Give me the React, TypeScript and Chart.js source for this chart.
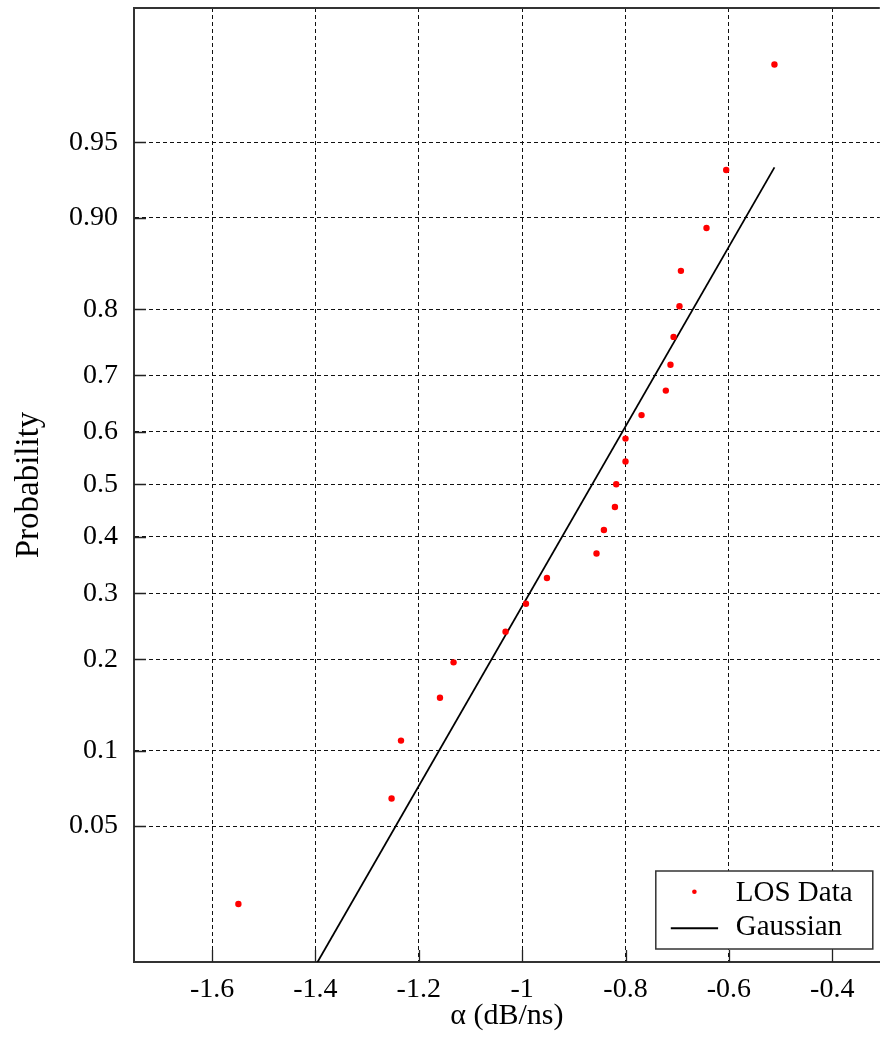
import React, { useEffect, useRef } from 'react';
import { Chart, registerables, LinearScale } from 'chart.js';

Chart.register(...registerables);

// ---------- data ----------
const losAlpha = [
  -1.549, -1.2526, -1.2344, -1.159, -1.1327, -1.0321, -0.9926, -0.952,
  -0.8561, -0.8418, -0.8205, -0.818, -0.8, -0.8, -0.769, -0.722, -0.713,
  -0.707, -0.6956, -0.6928, -0.6433, -0.6052, -0.5118,
];
const losProb = [
  0.0217, 0.0652, 0.1087, 0.1522, 0.1957, 0.2391, 0.2826, 0.3261, 0.3696,
  0.413, 0.4565, 0.5, 0.5435, 0.587, 0.6304, 0.6739, 0.7174, 0.7609, 0.8043,
  0.8478, 0.8913, 0.9348, 0.9783,
];
const gaussAlpha = [-1.549, -0.5118];
const gaussProb = [0.00153, 0.9364];

const xTickValues = [-1.6, -1.4, -1.2, -1.0, -0.8, -0.6, -0.4];
const xTickLabels = ['-1.6', '-1.4', '-1.2', '-1', '-0.8', '-0.6', '-0.4'];
const yTickValues = [0.05, 0.1, 0.2, 0.3, 0.4, 0.5, 0.6, 0.7, 0.8, 0.9, 0.95];
const yTickLabels = ['0.05', '0.1', '0.2', '0.3', '0.4', '0.5', '0.6', '0.7', '0.8', '0.90', '0.95'];

const seriesNames = ['LOS Data', 'Gaussian'];

// ---------- normal probability helpers ----------
function probit(p: number): number {
  const a = [-3.969683028665376e1, 2.209460984245205e2, -2.759285104469687e2, 1.38357751867269e2, -3.066479806614716e1, 2.506628277459239];
  const b = [-5.447609879822406e1, 1.615858368580409e2, -1.556989798598866e2, 6.680131188771972e1, -1.328068155288572e1];
  const c = [-7.784894002430293e-3, -3.223964580411365e-1, -2.400758277161838, -2.549732539343734, 4.374664141464968, 2.938163982698783];
  const d = [7.784695709041462e-3, 3.224671290700398e-1, 2.445134137142996, 3.754408661907416];
  const pl = 0.02425;
  const ph = 1 - pl;
  if (p <= 0) return -8;
  if (p >= 1) return 8;
  let q: number, r: number;
  if (p < pl) {
    q = Math.sqrt(-2 * Math.log(p));
    return (((((c[0] * q + c[1]) * q + c[2]) * q + c[3]) * q + c[4]) * q + c[5]) /
      ((((d[0] * q + d[1]) * q + d[2]) * q + d[3]) * q + 1);
  }
  if (p <= ph) {
    q = p - 0.5;
    r = q * q;
    return ((((((a[0] * r + a[1]) * r + a[2]) * r + a[3]) * r + a[4]) * r + a[5]) * q) /
      (((((b[0] * r + b[1]) * r + b[2]) * r + b[3]) * r + b[4]) * r + 1);
  }
  q = Math.sqrt(-2 * Math.log(1 - p));
  return -(((((c[0] * q + c[1]) * q + c[2]) * q + c[3]) * q + c[4]) * q + c[5]) /
    ((((d[0] * q + d[1]) * q + d[2]) * q + d[3]) * q + 1);
}

function normCdf(z: number): number {
  const t = 1 / (1 + 0.3275911 * Math.abs(z) / Math.SQRT2);
  const y = 1 - (((((1.061405429 * t - 1.453152027) * t) + 1.421413741) * t - 0.284496736) * t + 0.254829592) * t * Math.exp(-(z * z) / 2);
  return z >= 0 ? 0.5 * (1 + y) : 0.5 * (1 - y);
}

// ---------- custom probability (probit) scale ----------
class ProbitScale extends LinearScale {
  static id = 'probit';
  static defaults = { ticks: { callback: (v: number) => String(v) } };
  _zMin: number = 0;
  _zMax: number = 1;

  determineDataLimits() {
    const opts: any = this.options;
    this.min = opts.min;
    this.max = opts.max;
  }
  buildTicks() {
    return yTickValues.map((v) => ({ value: v }));
  }
  configure() {
    super.configure();
    this._zMin = probit(this.min);
    this._zMax = probit(this.max);
  }
  getPixelForValue(value: any) {
    if (value === null || value === undefined || isNaN(value)) return NaN;
    const z = probit(value);
    return this.getPixelForDecimal((z - this._zMin) / (this._zMax - this._zMin));
  }
  getValueForPixel(pixel: number) {
    const dec = this.getDecimalForPixel(pixel);
    return normCdf(this._zMin + dec * (this._zMax - this._zMin));
  }
}
Chart.register(ProbitScale as any);

const FONT = '"Liberation Serif", "Times New Roman", serif';

const decorPlugin = {
  id: 'decor',
  afterDraw(chart: any) {
    const { ctx, chartArea: ca, scales } = chart;
    const xs = scales.x;
    const ys = scales.y;
    ctx.save();
    // top frame line
    ctx.strokeStyle = '#333';
    ctx.lineWidth = 2;
    ctx.beginPath();
    ctx.moveTo(ca.left - 1, ca.top);
    ctx.lineTo(ca.right, ca.top);
    ctx.stroke();
    // inward tick marks
    ctx.strokeStyle = '#222';
    ctx.lineWidth = 1.3;
    ctx.beginPath();
    xs.ticks.forEach((t: any) => {
      const px = Math.round(xs.getPixelForValue(t.value)) + 0.5;
      ctx.moveTo(px, ca.bottom);
      ctx.lineTo(px, ca.bottom - 12);
    });
    ys.ticks.forEach((t: any) => {
      const py = Math.round(ys.getPixelForValue(t.value)) + 0.5;
      ctx.moveTo(ca.left, py);
      ctx.lineTo(ca.left + 12, py);
    });
    ctx.stroke();

    // legend box
    const bw = 217;
    const bh = 78;
    const bx = ca.right - 7 - bw;
    const by = ca.bottom - 13 - bh;
    ctx.fillStyle = '#fff';
    ctx.fillRect(bx, by, bw, bh);
    ctx.strokeStyle = '#333';
    ctx.lineWidth = 1.5;
    ctx.strokeRect(bx, by, bw, bh);
    // entry 1: red dot
    ctx.fillStyle = '#ff0000';
    ctx.beginPath();
    ctx.arc(bx + 38.6, by + 20.7, 2.3, 0, Math.PI * 2);
    ctx.fill();
    // entry 2: black line
    ctx.strokeStyle = '#000';
    ctx.lineWidth = 2;
    ctx.beginPath();
    ctx.moveTo(bx + 15, by + 57.3);
    ctx.lineTo(bx + 62.3, by + 57.3);
    ctx.stroke();
    ctx.fillStyle = '#000';
    ctx.font = '29px ' + FONT;
    ctx.textAlign = 'left';
    ctx.textBaseline = 'alphabetic';
    ctx.fillText(seriesNames[0], bx + 80, by + 29.7);
    ctx.fillText(seriesNames[1], bx + 80, by + 64);
    ctx.restore();
  },
};

export default function App() {
  const ref = useRef<HTMLCanvasElement | null>(null);
  useEffect(() => {
    if (!ref.current) return;
    const chart = new Chart(ref.current, {
      type: 'scatter',
      data: {
        datasets: [
          {
            label: seriesNames[0],
            data: losAlpha.map((x, i) => ({ x, y: losProb[i] })),
            backgroundColor: '#ff0000',
            borderWidth: 0,
            pointRadius: 3.2,
            pointHoverRadius: 3.2,
          },
          {
            label: seriesNames[1],
            data: gaussAlpha.map((x, i) => ({ x, y: gaussProb[i] })),
            showLine: true,
            borderColor: '#000',
            borderWidth: 1.8,
            pointRadius: 0,
            pointHoverRadius: 0,
            fill: false,
          } as any,
        ],
      },
      options: {
        animation: false,
        responsive: false,
        events: [],
        layout: { padding: { top: 8, right: 0, left: 0, bottom: 0 } },
        plugins: { legend: { display: false }, tooltip: { enabled: false } },
        scales: {
          x: {
            type: 'linear',
            position: 'bottom',
            min: -1.751,
            max: -0.308,
            afterFit: (s: any) => {
              s.height = 78;
              s.paddingLeft = 0;
              s.paddingRight = 0;
              s.paddingTop = 0;
              s.paddingBottom = 0;
            },
            afterBuildTicks: (s: any) => { s.ticks = xTickValues.map((v) => ({ value: v })); },
            ticks: {
              callback: (_v: any, i: number) => xTickLabels[i],
              padding: 11,
              color: '#000',
              maxRotation: 0,
              autoSkip: false,
              font: { family: FONT, size: 28 },
            },
            grid: { color: '#111', lineWidth: 1, drawTicks: false },
            border: { dash: [4, 3], color: '#333', width: 2 },
            title: {
              display: true,
              text: 'α (dB/ns)',
              color: '#000',
              font: { family: FONT, size: 30 },
              padding: { top: 0, bottom: 6 },
            },
          },
          y: {
            type: 'probit' as any,
            position: 'left',
            min: 0.01075,
            max: 0.98905,
            afterFit: (s: any) => {
              s.width = 134;
              s.paddingLeft = 0;
              s.paddingRight = 0;
              s.paddingTop = 0;
              s.paddingBottom = 0;
            },
            ticks: {
              callback: (_v: any, i: number) => yTickLabels[i],
              padding: 16,
              color: '#000',
              autoSkip: false,
              font: { family: FONT, size: 28 },
            },
            grid: { color: '#111', lineWidth: 1, drawTicks: false },
            border: { dash: [4, 3], color: '#333', width: 2 },
            title: {
              display: true,
              text: 'Probability',
              color: '#000',
              font: { family: FONT, size: 33 },
              padding: { top: 10, bottom: 0 },
            },
          } as any,
        },
      },
      plugins: [decorPlugin],
    });
    return () => chart.destroy();
  }, []);
  return (
    <div style={{ position: 'absolute', left: 0, top: 0, width: 880, height: 1040, overflow: 'hidden', background: '#fff' }}>
      <canvas ref={ref} width={883} height={1040} style={{ display: 'block' }} />
    </div>
  );
}
